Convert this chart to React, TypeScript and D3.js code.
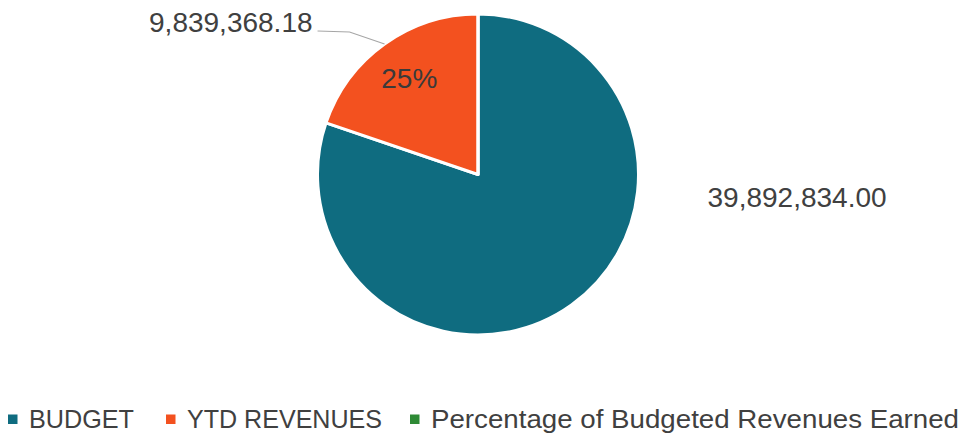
import * as d3 from "d3";
import { useEffect, useRef } from "react";

const categories = ["BUDGET", "YTD REVENUES", "Percentage of Budgeted Revenues Earned"];
const values = [39892834.0, 9839368.18, 0.2466];
const valueLabels = ["39,892,834.00", "9,839,368.18", ""];
const percentLabel = "25%";
const colors = ["#0f6c80", "#f3511f", "#2e8a35"];

export default function App() {
  const svgRef = useRef<SVGSVGElement | null>(null);

  useEffect(() => {
    if (!svgRef.current) return;
    const width = 964;
    const height = 438;
    const cx = 478;
    const cy = 174.5;
    const r = 160.5;
    const textColor = "#404040";
    const font = "'Liberation Sans', Arial, sans-serif";

    const svg = d3.select(svgRef.current);
    svg.selectAll("*").remove();
    svg.attr("width", width).attr("height", height);
    svg.append("rect").attr("width", width).attr("height", height).attr("fill", "#fff");

    const pie = d3
      .pie<number>()
      .sort(null)
      .value((d) => d);
    const arcs = pie(values);
    const arc = d3.arc<d3.PieArcDatum<number>>().innerRadius(0).outerRadius(r);

    const g = svg.append("g").attr("transform", `translate(${cx},${cy})`);

    // === slices ===
    g.selectAll("path")
      .data(arcs)
      .enter()
      .append("path")
      .attr("d", arc)
      .attr("fill", (_, i) => colors[i])
      .attr("stroke", "#fff")
      .attr("stroke-width", 3)
      .attr("stroke-linejoin", "round");

    // === percent label inside YTD slice ===
    const ytd = arcs[1];
    const inner = d3.arc<d3.PieArcDatum<number>>().innerRadius(118).outerRadius(118);
    const [px, py] = inner.centroid(ytd);
    g.append("text")
      .attr("x", px)
      .attr("y", py)
      .attr("dy", "0.35em")
      .attr("text-anchor", "middle")
      .attr("font-family", font)
      .attr("font-size", 28)
      .attr("fill", "#3a3a3a")
      .text(percentLabel);

    // === YTD value label with leader line ===
    const mid = (ytd.startAngle + ytd.endAngle) / 2;
    const ex = Math.sin(mid) * r;
    const ey = -Math.cos(mid) * r;
    const lx = ex - 67;
    const ly = -cy + 31;
    g.append("path")
      .attr("d", `M${ex},${ey}L${lx + 32},${ly + 1}L${lx},${ly}`)
      .attr("fill", "none")
      .attr("stroke", "#a6a6a6")
      .attr("stroke-width", 1.2);
    g.append("text")
      .attr("x", lx - 5)
      .attr("y", ly + 1)
      .attr("text-anchor", "end")
      .attr("font-family", font)
      .attr("font-size", 28)
      .attr("fill", textColor)
      .text(valueLabels[1]);

    // === BUDGET value label ===
    g.append("text")
      .attr("x", r + 69)
      .attr("y", 32.5)
      .attr("text-anchor", "start")
      .attr("font-family", font)
      .attr("font-size", 28)
      .attr("fill", textColor)
      .text(valueLabels[0]);

    // === legend ===
    const legendX = [8, 166, 410];
    const legendW = [105, 195, 528];
    const legend = svg
      .append("g")
      .selectAll("g")
      .data(categories)
      .enter()
      .append("g")
      .attr("transform", (_, i) => `translate(${legendX[i]},427.5)`);
    legend
      .append("rect")
      .attr("x", 0)
      .attr("y", -13)
      .attr("width", 9.5)
      .attr("height", 9.5)
      .attr("fill", (_, i) => colors[i]);
    legend
      .append("text")
      .attr("x", 21)
      .attr("y", 0)
      .attr("font-family", font)
      .attr("font-size", 26.5)
      .attr("fill", textColor)
      .attr("textLength", (_, i) => legendW[i])
      .attr("lengthAdjust", "spacingAndGlyphs")
      .text((d) => d);
  }, []);

  return (
    <svg
      ref={svgRef}
      style={{ position: "absolute", left: 0, top: 0, display: "block" }}
    />
  );
}
